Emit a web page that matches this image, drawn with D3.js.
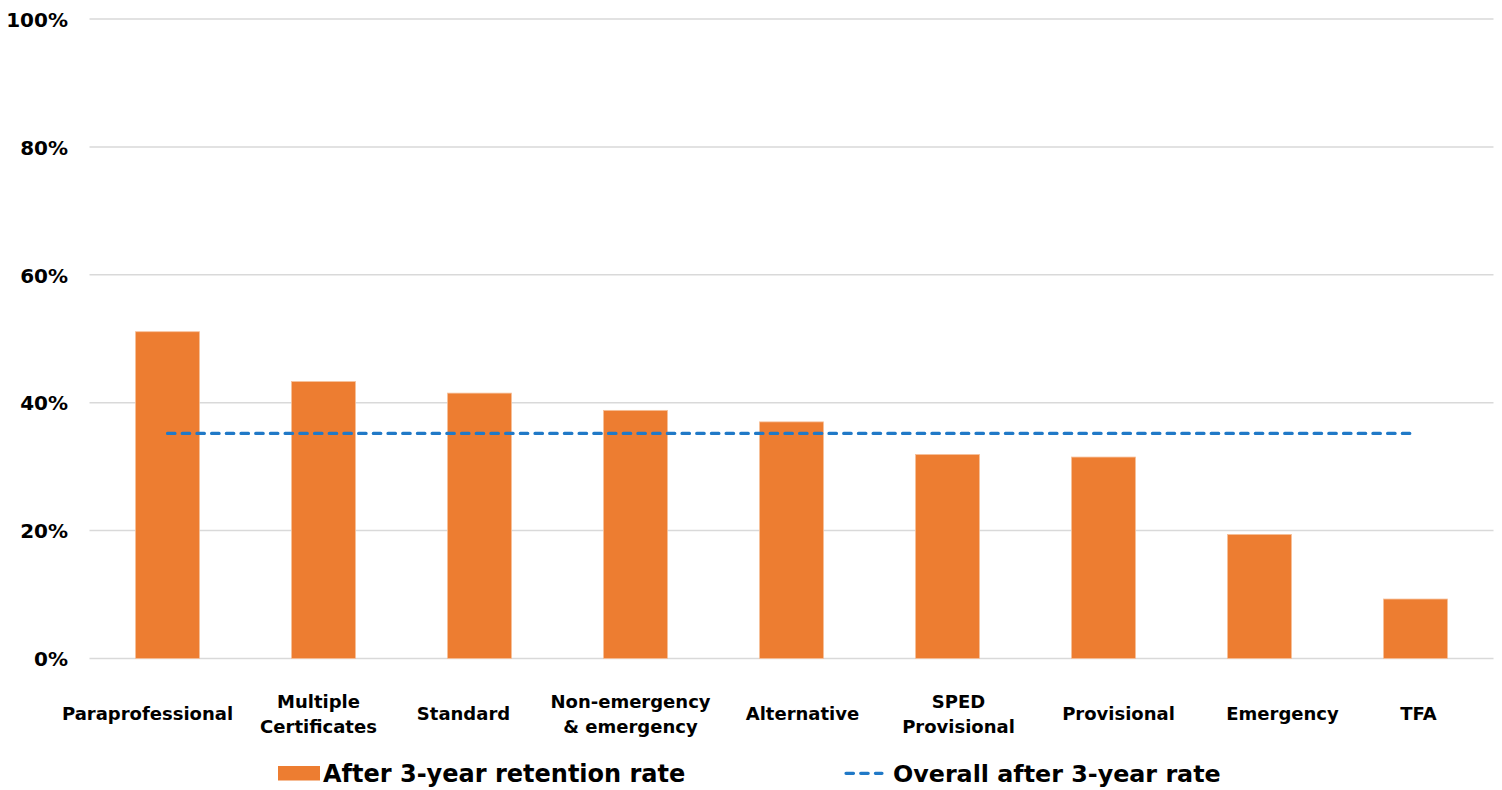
<!DOCTYPE html>
<html>
<head>
<meta charset="utf-8">
<script src="https://cdn.jsdelivr.net/npm/d3@7"></script>
<style>
  html, body { margin: 0; padding: 0; background: #fff; }
  svg { display: block; }
  text { font-family: "DejaVu Sans", sans-serif; font-weight: bold; fill: #000; }
</style>
</head>
<body>
<svg id="chart" width="1502" height="790"></svg>
<script>
const categories = ["Paraprofessional", "Multiple\nCertificates", "Standard", "Non-emergency\n& emergency", "Alternative", "SPED\nProvisional", "Provisional", "Emergency", "TFA"];
const retention = [51.1, 43.3, 41.5, 38.8, 37.0, 31.9, 31.5, 19.4, 9.3];
const overallRate = 35.2;
const yTicks = [0, 20, 40, 60, 80, 100];
const seriesNames = ["After 3-year retention rate", "Overall after 3-year rate"];

// layout: horizontal nudges of the category labels relative to the bar centres (as in the original)
const labelNudge = [-20, -5, -16, -5, 11, 11, 15, 23, 3];

const barColor = "#ED7D31";
const lineColor = "#2079C7";

const svg = d3.select("#chart");
const plotLeft = 89.5, plotRight = 1493.5, plotTop = 19, plotBottom = 658.5;

const x = d3.scaleBand().domain(categories).range([plotLeft, plotRight])
  .paddingInner(0.59).paddingOuter(0.295);
const y = d3.scaleLinear().domain([0, 100]).range([plotBottom, plotTop]);

// gridlines
svg.append("g").selectAll("line").data(yTicks).join("line")
  .attr("x1", plotLeft).attr("x2", plotRight)
  .attr("y1", d => y(d)).attr("y2", d => y(d))
  .attr("stroke", "#d9d9d9").attr("stroke-width", 1.5);

// y axis labels
const yAxis = d3.axisLeft(y).tickValues(yTicks).tickFormat(d => d + "%").tickSize(0).tickPadding(0);
const gy = svg.append("g").attr("transform", `translate(68,0)`).call(yAxis);
gy.select(".domain").remove();
gy.selectAll("text").attr("font-size", 20).attr("font-family", "DejaVu Sans").attr("font-weight", "bold").attr("fill", "#000").attr("dy", "0.36em");

// bars
svg.append("g").selectAll("rect").data(categories).join("rect")
  .attr("x", d => x(d))
  .attr("width", x.bandwidth())
  .attr("y", (d, i) => y(retention[i]))
  .attr("height", (d, i) => y(0) - y(retention[i]))
  .attr("fill", barColor)
  .attr("stroke", "#f6c09a").attr("stroke-width", 0.8);

// overall line
const lineData = categories.map(c => [x(c) + x.bandwidth() / 2, y(overallRate)]);
svg.append("path")
  .attr("d", d3.line()(lineData))
  .attr("fill", "none")
  .attr("stroke", lineColor)
  .attr("stroke-width", 3.2)
  .attr("stroke-linecap", "round")
  .attr("stroke-dasharray", "7.5,7.2");

// category labels
const catG = svg.append("g");
categories.forEach((c, i) => {
  const lines = c.split("\n");
  const cx = x(c) + x.bandwidth() / 2 + labelNudge[i];
  const baseY = lines.length === 1 ? 720 : 708;
  const t = catG.append("text")
    .attr("text-anchor", "middle")
    .attr("font-size", 18);
  lines.forEach((ln, j) => {
    t.append("tspan").attr("x", cx).attr("y", baseY + j * 25).text(ln);
  });
});

// legend
const lg = svg.append("g");
lg.append("rect").attr("x", 278).attr("y", 766).attr("width", 42).attr("height", 14.5).attr("fill", barColor);
lg.append("text").attr("x", 323).attr("y", 781.5).attr("font-size", 24).text(seriesNames[0]);
lg.append("line").attr("x1", 846).attr("x2", 882).attr("y1", 773.3).attr("y2", 773.3)
  .attr("stroke", lineColor).attr("stroke-width", 3.2)
  .attr("stroke-linecap", "round").attr("stroke-dasharray", "7.5,7.2");
lg.append("text").attr("x", 893).attr("y", 781.5).attr("font-size", 23.8).text(seriesNames[1]);
</script>
</body>
</html>
